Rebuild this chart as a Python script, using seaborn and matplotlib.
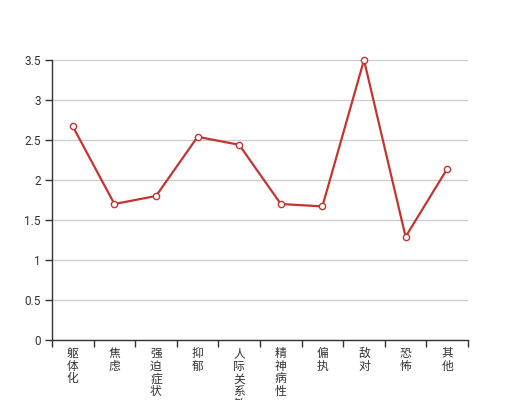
import matplotlib
matplotlib.use("Agg")
import matplotlib.pyplot as plt
import pandas as pd
import seaborn as sns
from matplotlib.ticker import FuncFormatter, FixedLocator

# Data
categories = ['躯体化', '焦虑', '强迫症状', '抑郁', '人际关系敏感',
              '精神病性', '偏执', '敌对', '恐怖', '其他']
scores = [2.67, 1.70, 1.80, 2.54, 2.44, 1.70, 1.67, 3.50, 1.29, 2.14]
y_ticks = [0, 0.5, 1, 1.5, 2, 2.5, 3, 3.5]

df = pd.DataFrame({'pos': range(len(categories)), 'score': scores})

sns.set_style('white')
plt.rcParams['font.family'] = ['Noto Sans CJK SC', 'DejaVu Sans']

fig = plt.figure(figsize=(5.2, 4), dpi=100)
ax = fig.add_axes([0.1, 0.15, 0.8, 0.7])

sns.lineplot(data=df, x='pos', y='score', ax=ax, color='#c23531', linewidth=1.6,
             marker='o', markersize=4.5, markerfacecolor='white',
             markeredgecolor='#c23531', markeredgewidth=1.0, legend=False)
for ln in ax.lines:
    ln.set_clip_on(False)

ax.set_xlim(-0.5, len(categories) - 0.5)
ax.set_ylim(0, 3.5)
ax.set_yticks(y_ticks)
ax.yaxis.set_major_formatter(FuncFormatter(lambda v, p: f'{v:g}'))
ax.grid(axis='y', color='#cccccc', linewidth=0.9)
ax.set_axisbelow(True)

# category labels written vertically, ticks at category boundaries
ax.set_xticks(range(len(categories)))
ax.set_xticklabels(['\n'.join(c) for c in categories], va='top', linespacing=0.97)
ax.tick_params(axis='x', which='major', bottom=True, length=0, pad=5, labelsize=8.5,
               labelcolor='#333333')
ax.xaxis.set_minor_locator(FixedLocator([i - 0.5 for i in range(len(categories) + 1)]))
ax.tick_params(axis='x', which='minor', bottom=True, length=5, width=1,
               color='#333333', direction='out')
ax.tick_params(axis='y', left=True, length=5, width=1, color='#333333', direction='out',
               labelsize=8.5, labelcolor='#333333', pad=3)
for lbl in ax.get_yticklabels():
    lbl.set_family(['Roboto', 'DejaVu Sans'])

for s in ['top', 'right']:
    ax.spines[s].set_visible(False)
for s in ['left', 'bottom']:
    ax.spines[s].set_color('#333333')
    ax.spines[s].set_linewidth(1)

ax.set_xlabel('')
ax.set_ylabel('')

fig.savefig('out.png', dpi=100)
